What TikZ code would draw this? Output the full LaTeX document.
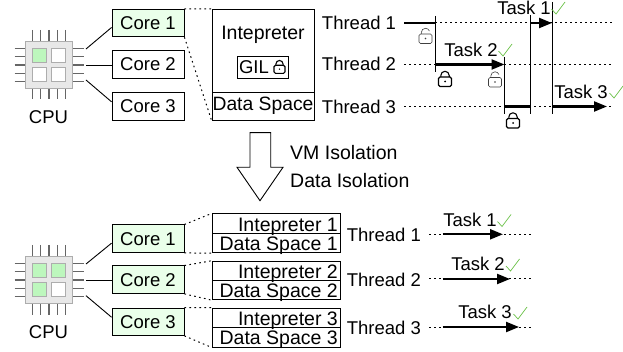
\documentclass[tikz,border=0pt]{standalone}
\usepackage{fontspec}
\setmainfont{Liberation Sans}
\usetikzlibrary{arrows.meta}
\definecolor{core_green}{HTML}{EAFFEA}
\definecolor{chip_green}{HTML}{BDF7BD}
\definecolor{check_green}{HTML}{6CC24A}

\begin{document}
\begin{tikzpicture}
	[x=1pt, y=-1pt,
	label_style/.style={inner sep=0pt, font=\fontsize{18.5}{20}\selectfont},
	space_style/.style={inner sep=0pt, font=\fontsize{19.5}{20}\selectfont},
	box_style/.style={draw=black, line width=.9pt, inner sep=0pt, minimum width=72pt, minimum height=27.5pt, font=\fontsize{18.5}{20}\selectfont},
	core_style/.style={box_style, fill=core_green},
	edge_style/.style={draw=black, line width=.9pt},
	dot_style/.style={draw=black, line width=1pt, dash pattern=on 1.6pt off 3.4pt},
	run_style/.style={draw=black, line width=2.2pt},
	task_style/.style={run_style, -{Triangle[length=13pt, width=10pt]}},
	switch_style/.style={draw=black, line width=1pt},
	check_style/.style={draw=check_green, line width=.7pt},
	pics/lock_closed/.style={code={
		\draw[line width=1.1pt, rounded corners=1.5pt, fill=white] (-6.5,-2) rectangle (6.5,7.5);
		\draw[line width=1.1pt] (-4.2,-2) -- (-4.2,-3.5) arc[start angle=180, end angle=360, radius=4.2] -- (4.2,-2);
		\fill (0,2.5) circle (1pt);
	}},
	pics/lock_open/.style={code={
		\draw[black!75, line width=.6pt, rounded corners=1.5pt, fill=white] (-6.5,-2) rectangle (6.5,7.5);
		\draw[black!75, line width=.6pt] (-4.2,-2) -- (-4.2,-3.5) arc[start angle=180, end angle=340, radius=4.2];
		\fill[black!75] (0,2.5) circle (.9pt);
	}},
	pics/cpu_chip/.style n args={4}{code={
		\foreach \p in {-16.7,-8.35,0,8.35,16.7}{
			\draw[black!60, line width=1.3pt] (-34.5,\p) -- (-24,\p);
			\draw[black!60, line width=1.3pt] (24,\p) -- (34.5,\p);
			\draw[black!60, line width=1.3pt] (\p,-35) -- (\p,-24);
			\draw[black!60, line width=1.3pt] (\p,24) -- (\p,34.5);
		}
		\draw[black!32, line width=1.2pt, fill=black!9] (-23.3,-23.3) rectangle (23.3,23.3);
		\draw[black!32, line width=1pt, fill=#1] (-16.8,-16.8) rectangle (-2.8,-2.8);
		\draw[black!32, line width=1pt, fill=#2] (2.8,-16.8) rectangle (16.8,-2.8);
		\draw[black!32, line width=1pt, fill=#3] (-16.8,2.8) rectangle (-2.8,16.8);
		\draw[black!32, line width=1pt, fill=#4] (2.8,2.8) rectangle (16.8,16.8);
	}}]
	\useasboundingbox (0,0) rectangle (623,352);

	% top half
	\pic at (49,65) {cpu_chip={chip_green}{white}{white}{white}};
	\node[label_style] (cpu1) at (48.5,117) {CPU};
	\coordinate (cpu1a) at (86,49);
	\coordinate (cpu1b) at (86,65);
	\coordinate (cpu1c) at (86,80);

	\node[core_style] (core1) at (148,23) {Core 1};
	\node[box_style] (core2) at (148,64.5) {Core 2};
	\node[box_style] (core3) at (148,106.3) {Core 3};
	\draw[edge_style] (cpu1a) -- (core1.187);
	\draw[edge_style] (cpu1b) -- (core2.west |- cpu1b);
	\draw[edge_style] (cpu1c) -- (core3.173);

	\node[box_style, minimum width=102pt, minimum height=83pt] (interp) at (263,50.8) {};
	\node[box_style, minimum width=102pt, minimum height=27.7pt, font=\fontsize{19.3}{20}\selectfont] (space) at (263,106.2) {Data Space};
	\node[space_style] (interptext) at (263,35) {Intepreter};
	\node[box_style, line width=.7pt, minimum width=51pt, minimum height=22pt, text width=47pt] (gil) at (262.5,67) {GIL};
	\pic[scale=.85] at (279.5,67) {lock_closed};
	\draw[dot_style] (core1.north east) -- (interp.north west);
	\draw[dot_style] (core1.south east) -- (space.south west);

	\node[label_style] (thread1) at (359,23.3) {Thread 1};
	\node[label_style] (thread2) at (359,64.3) {Thread 2};
	\node[label_style] (thread3) at (359,106.7) {Thread 3};

	\coordinate (t1a) at (404,23);
	\coordinate (t1b) at (435,23);
	\coordinate (t1c) at (530,23);
	\coordinate (t1d) at (552,23);
	\coordinate (t1e) at (612,23);
	\coordinate (t2a) at (404,64.5);
	\coordinate (t2b) at (435,64.5);
	\coordinate (t2c) at (504.5,64.5);
	\coordinate (t2d) at (612,64.5);
	\coordinate (t3a) at (404,106.5);
	\coordinate (t3b) at (504.5,106.5);
	\coordinate (t3c) at (530,106.5);
	\coordinate (t3d) at (552,106.5);
	\coordinate (t3e) at (607,106.5);
	\coordinate (t3f) at (612,106.5);

	\draw[dot_style] (t1b) -- (t1e);
	\draw[dot_style] (t2a) -- (t2d);
	\draw[dot_style] (t3a) -- (t3f);
	\draw[run_style] (t1a) -- (t1b);
	\draw[task_style] (t1c) -- (t1d);
	\draw[task_style] (t2b) -- (t2c);
	\draw[run_style] (t3b) -- (t3c);
	\draw[task_style] (t3d) -- (t3e);

	\draw[switch_style] (435,16) -- (435,71.7);
	\draw[switch_style] (504.5,57.3) -- (504.5,114);
	\draw[switch_style] (530,15) -- (530,114);
	\draw[switch_style] (552,2) -- (552,114);

	\pic at (425.5,36) {lock_open};
	\pic at (445,79) {lock_closed};
	\pic at (495,79.5) {lock_open};
	\pic at (513,120.5) {lock_closed};

	\node[label_style] (task1) at (524,8) {Task 1};
	\node[label_style] (task2) at (471,50) {Task 2};
	\node[label_style] (task3) at (581,92) {Task 3};
	\foreach \x/\y in {551.5/9, 498.5/51, 609.5/93, 497.5/221.5, 506/266, 513.5/314}{
		\draw[check_style] (\x,\y) -- ++(4.5,5) -- ++(9,-12);
	}

	% big arrow in the middle
	\draw[edge_style, fill=white] (250,132.7) -- (270.7,132.7) -- (270.7,167.3) -- (283,167.3) -- (260,200.7) -- (237,167.3) -- (250,167.3) -- cycle;
	\node[space_style, anchor=west] (vmiso) at (290,153) {VM Isolation};
	\node[space_style, anchor=west] (dataiso) at (290,180.7) {Data Isolation};

	% bottom half
	\pic at (49,280) {cpu_chip={chip_green}{chip_green}{chip_green}{white}};
	\node[label_style] (cpu2) at (48.5,332.5) {CPU};
	\coordinate (cpu2a) at (86,264);
	\coordinate (cpu2b) at (86,280);
	\coordinate (cpu2c) at (86,295.7);

	\node[core_style] (core4) at (148,238.7) {Core 1};
	\node[core_style] (core5) at (148,279.7) {Core 2};
	\node[core_style] (core6) at (148,321.7) {Core 3};
	\draw[edge_style] (cpu2a) -- (core4.187);
	\draw[edge_style] (cpu2b) -- (core5.west |- cpu2b);
	\draw[edge_style] (cpu2c) -- (core6.173);

	\foreach \n/\top/\mid/\bot in {1/213.3/233/252.3, 2/260.7/280/299.3, 3/307.7/327.3/346.7}{
		\node[edge_style, inner sep=0pt, anchor=north west, minimum width=127.5pt, minimum height=\mid pt-\top pt] (interp\n) at (212,\top) {};
		\node[edge_style, inner sep=0pt, anchor=north west, minimum width=127.5pt, minimum height=\bot pt-\mid pt] (space\n) at (212,\mid) {};
		\node[space_style, anchor=mid east] at (338,\mid-4) {Intepreter \n};
		\node[space_style, anchor=mid east] at (338,\bot-4.5) {Data Space \n};
	}
	\draw[dot_style] (core4.north east) -- (interp1.north west);
	\draw[dot_style] (core4.south east) -- (space1.south west);
	\draw[dot_style] (core5.north east) -- (interp2.north west);
	\draw[dot_style] (core5.south east) -- (space2.south west);
	\draw[dot_style] (core6.north east) -- (interp3.north west);
	\draw[dot_style] (core6.south east) -- (space3.south west);

	\foreach \n/\y/\e/\tx/\ty in {1/234.3/503/470/220, 2/279/510/478/264, 3/327/519/485/312}{
		\node[label_style, anchor=west] (thread\n b) at (346.7,\y+.7) {Thread \n};
		\coordinate (sa\n) at (429,\y);
		\coordinate (sb\n) at (442.7,\y);
		\coordinate (sc\n) at (\e,\y);
		\coordinate (sd\n) at (532,\y);
		\draw[dot_style] (sa\n) -- (sd\n);
		\draw[task_style] (sb\n) -- (sc\n);
		\node[label_style] (task\n b) at (\tx,\ty) {Task \n};
	}
\end{tikzpicture}
\end{document}
